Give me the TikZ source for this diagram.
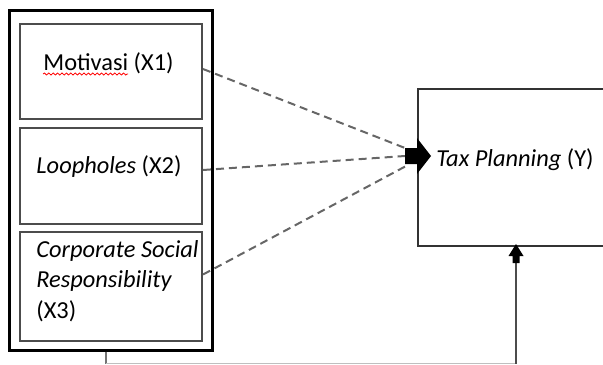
\documentclass[tikz,border=0pt]{standalone}
\usepackage{fontspec}
\setmainfont{Carlito}
\usetikzlibrary{positioning,calc,decorations.pathmorphing}
\tikzset{
    varbox/.style={
                draw=black!70,
                line width=1pt,
                minimum width=91pt,
                inner sep=0pt
            },
    groupbox/.style={
                draw=black,
                line width=1.5pt,
                minimum width=101.5pt,
                minimum height=170pt,
                inner sep=0pt
            },
    depbox/.style={
                draw=black!80,
                line width=0.8pt,
                minimum width=111pt,
                minimum height=78.5pt,
                inner sep=0pt
            },
    vartext/.style={
                inner sep=0pt,
                font=\fontsize{12.2}{15.2}\selectfont
            },
    dashlink/.style={
                draw=black!60,
                line width=1pt,
                dash pattern=on 4pt off 2.5pt
            },
    plainlink/.style={
                draw=black!70,
                line width=0.8pt
            },
    blockarrow/.style={fill=black}
}

\begin{document}
\begin{tikzpicture}[x=0.5pt,y=-0.5pt]
\useasboundingbox (0,0) rectangle (603,364);
\clip (0,0) rectangle (603,364);
% Independent variables
\node[groupbox] (group) at (110.5,180) {};
\node[varbox, minimum height=47.5pt] (x1) at (111,71.5) {};
\node[varbox, minimum height=48pt, below=3.5pt of x1] (x2) {};
\node[varbox, minimum height=54.5pt, below=3pt of x2] (x3) {};
\node[vartext, anchor=base] (x1text) at (108.5,70) {Motivasi (X1)};
\draw[red, line width=0.4pt, decorate,
      decoration={snake, amplitude=0.5pt, segment length=2.2pt}]
  ([yshift=-2pt]x1text.base west) -- ++(85,0);
\node[vartext, anchor=base] (x2text) at (109,173) {\textit{Loopholes} (X2)};
\node[vartext, anchor=north west, align=left] (x3text) at (36,240)
  {\textit{Corporate Social}\\\textit{Responsibility}\\(X3)};
% Dependent variable
\node[depbox] (y) at (529,167.5) {};
\node[vartext, anchor=base west] (ytext) at (436,166) {\textit{Tax Planning} (Y)};
% Connectors
\coordinate (ytip) at (431,156);
\coordinate (ybase) at (405,156);
\draw[dashlink] ([yshift=1.25pt]x1.east) -- ([yshift=4pt]ybase);
\draw[dashlink] ([yshift=3pt]x2.east) -- (ybase);
\draw[dashlink] ([yshift=6pt]x3.east) -- ([xshift=1.5pt,yshift=-4.5pt]ybase);
\fill[blockarrow] (ytip) -- ++(-14,-18) -- ++(0,10) -- ++(-12,0) -- ++(0,16)
  -- ++(12,0) -- ++(0,10) -- cycle;
\coordinate (uptip) at (516,244);
\coordinate (drop) at (106,363.5);
\coordinate (corner) at (516,363.5);
\draw[plainlink, draw=black!55] ([xshift=-2.25pt]group.south) -- (drop);
\draw[plainlink, draw=black!25] (drop) -- (corner);
\draw[plainlink] (corner) -- ([yshift=-9.5pt]uptip);
\fill[blockarrow] (uptip) -- ++(-7.5,12) -- ++(4,0) -- ++(0,7) -- ++(7,0)
  -- ++(0,-7) -- ++(4,0) -- cycle;
\end{tikzpicture}
\end{document}
